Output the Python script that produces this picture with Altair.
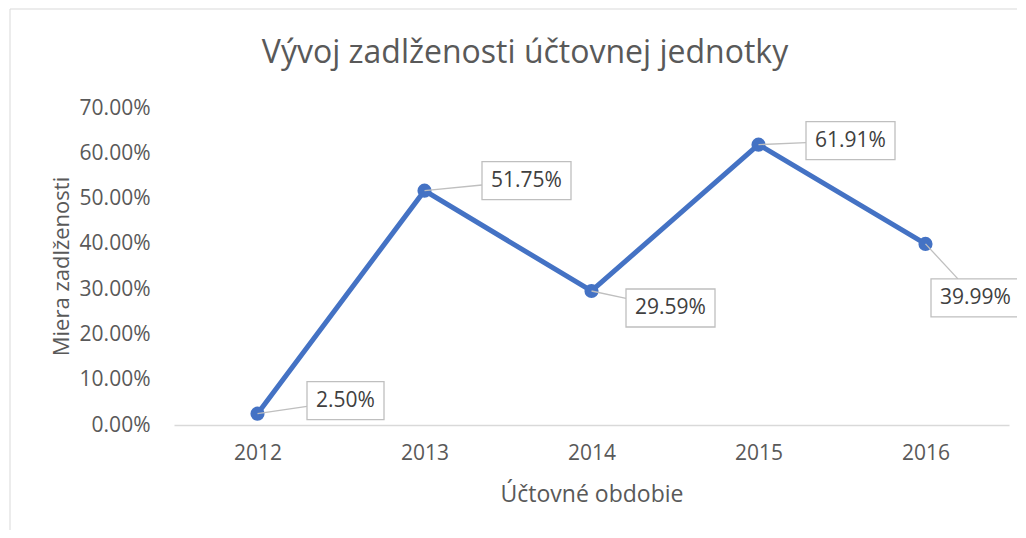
import altair as alt
import pandas as pd

# ---- data ----
years = [2012, 2013, 2014, 2015, 2016]
values_pct = [2.50, 51.75, 29.59, 61.91, 39.99]
y_ticks = [0.0, 0.1, 0.2, 0.3, 0.4, 0.5, 0.6, 0.7]
title_text = "Vývoj zadlženosti účtovnej jednotky"

# ---- label callout placement (pixel offsets from the point, style only) ----
label_dx = [88, 102, 79, 92, 50]
label_dy = [-13, -10, 17, -4, 54]
box_w = [77, 89, 89, 89, 89]
box_h = 38

W, H = 835, 317
X_MIN, X_MAX = 2011.5, 2016.5
Y_MAX = 0.7
px_x = W / (X_MAX - X_MIN)
px_y = H / Y_MAX

rows = []
for yr, v, dx, dy, bw in zip(years, values_pct, label_dx, label_dy, box_w):
    val = v / 100.0
    # anchor where the leader meets the box edge
    t = min((bw / 2) / abs(dx) if dx else 1e9, (box_h / 2) / abs(dy) if dy else 1e9)
    ax_px, ay_px = dx - t * dx, dy - t * dy
    rows.append({
        "year": yr,
        "value": val,
        "label": f"{v:.2f}%",
        "lx": yr + dx / px_x,
        "ly": val - dy / px_y,
        "bx1": yr + (dx - bw / 2) / px_x,
        "bx2": yr + (dx + bw / 2) / px_x,
        "by1": val - (dy - box_h / 2) / px_y,
        "by2": val - (dy + box_h / 2) / px_y,
        "ax": yr + ax_px / px_x,
        "ay": val - ay_px / px_y,
    })
df = pd.DataFrame(rows)

FONT = "Open Sans"
AX_COL = "#595959"
BLUE = "#4472C4"

x_enc = alt.X(
    "year:Q",
    scale=alt.Scale(domain=[X_MIN, X_MAX], nice=False, zero=False),
    axis=alt.Axis(
        values=years, format="d", title="Účtovné obdobie", grid=False, ticks=False,
        domain=True, domainColor="#d9d9d9", domainWidth=1.3,
        labelFont=FONT, labelFontSize=21, labelColor=AX_COL, labelPadding=17,
        titleFont=FONT, titleFontSize=23, titleFontWeight="normal", titleColor=AX_COL,
        titleY=76, titleBaseline="alphabetic", labelFlush=False,
    ),
)
y_enc = alt.Y(
    "value:Q",
    scale=alt.Scale(domain=[0, Y_MAX], nice=False),
    axis=alt.Axis(
        values=y_ticks, format=".2%", title="Miera zadlženosti", grid=False, ticks=False,
        domain=False, labelFont=FONT, labelFontSize=21, labelColor=AX_COL, labelPadding=24,
        titleFont=FONT, titleFontSize=22, titleFontWeight="normal", titleColor=AX_COL,
        titleX=-106, titleY=158, titleAngle=-90, titleBaseline="alphabetic",
    ),
)

base = alt.Chart(df)
one = base.transform_filter("datum.year == 2012")

border = one.mark_rect(
    fill="white", fillOpacity=0, stroke="#d9d9d9", strokeWidth=1
).encode(
    x=alt.value(-164), x2=alt.value(W + 60), y=alt.value(-99), y2=alt.value(H + 160)
)

title = one.mark_text(
    font=FONT, fontSize=32, color=AX_COL, align="center", baseline="alphabetic"
).encode(x=alt.value(351), y=alt.value(-45), text=alt.value(title_text))

line = base.mark_line(color=BLUE, strokeWidth=5).encode(x=x_enc, y=y_enc)
points = base.mark_circle(color=BLUE, size=200, opacity=1).encode(x="year:Q", y="value:Q")
leaders = base.mark_rule(color="#bfbfbf", strokeWidth=1.3).encode(
    x="year:Q", y="value:Q", x2="ax:Q", y2="ay:Q"
)
boxes = base.mark_rect(fill="white", stroke="#bfbfbf", strokeWidth=1.3).encode(
    x="bx1:Q", x2="bx2:Q", y="by1:Q", y2="by2:Q"
)
texts = base.mark_text(
    font=FONT, fontSize=21, color="#404040", align="center", baseline="middle"
).encode(x="lx:Q", y="ly:Q", text="label:N")

chart = alt.layer(border, title, line, points, leaders, boxes, texts).properties(
    width=W,
    height=H,
    autosize=alt.AutoSizeParams(type="none"),
    padding={"left": 166, "top": 100, "right": 8, "bottom": 105},
).configure_view(stroke=None)

chart.save("out.html", embed_options={"renderer": "svg", "actions": False})
